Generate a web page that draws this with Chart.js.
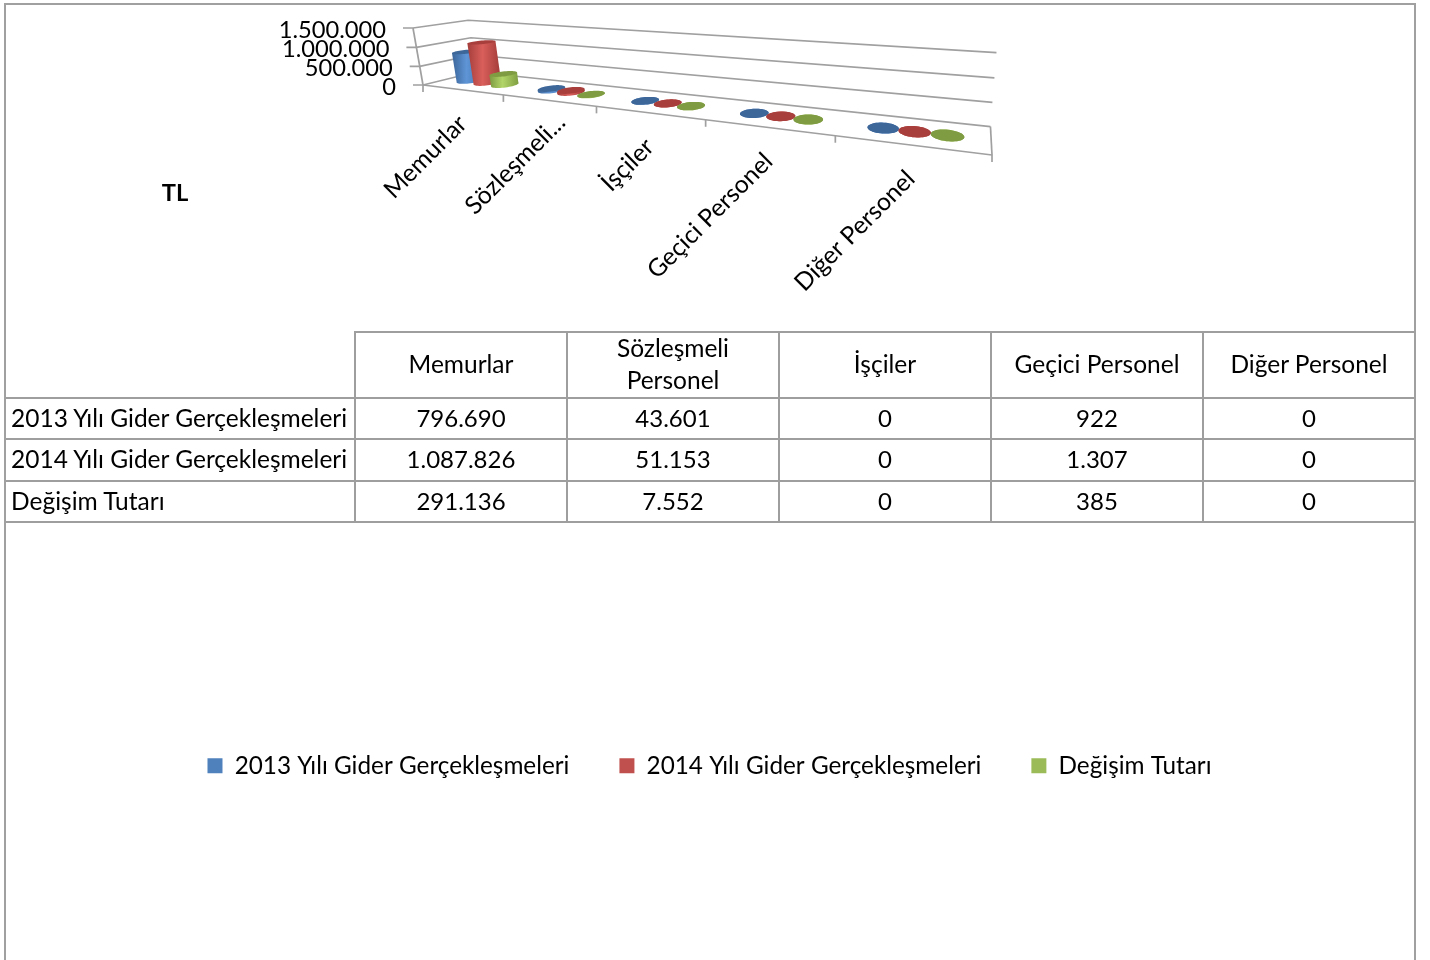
<!DOCTYPE html>
<html lang="tr">
<head>
<meta charset="utf-8">
<title>Personel Giderleri</title>
<script src="https://cdn.jsdelivr.net/npm/chart.js@4"></script>
<style>
html,body{margin:0;padding:0;background:#fff;overflow:hidden;width:1430px;height:960px}
canvas{position:absolute;left:0;top:0}
#frame{position:absolute;left:4px;top:3px;width:1408px;height:1000px;border:2px solid #a0a0a0;box-sizing:content-box;pointer-events:none}
#tbl{position:absolute;left:4px;top:331px;border-collapse:collapse;table-layout:fixed;width:1410px;font:24.5px Lato,sans-serif;color:#000}
#tbl td,#tbl th{border:2px solid #9e9e9e;padding:0;text-align:center;font-weight:400;line-height:32px;font-size:24px}
#tbl th{font-size:24.5px;white-space:nowrap}
#tbl th.blank{border-left:none;border-top:none}
#tbl td.name{text-align:left;padding-left:5px;white-space:nowrap;font-size:24.5px}
#tbl div{position:relative;top:-1px}
</style>
</head>
<body>
<canvas id="c" width="1430" height="960"></canvas>
<table id="tbl"></table>
<div id="frame"></div>
<script>
const axisLabels = ['Memurlar','Sözleşmeli...','İşçiler','Geçici Personel','Diğer Personel'];
const tableHeads = ['Memurlar','Sözleşmeli<br>Personel','İşçiler','Geçici Personel','Diğer Personel'];
const seriesNames = ['2013 Yılı Gider Gerçekleşmeleri','2014 Yılı Gider Gerçekleşmeleri','Değişim Tutarı'];
const values2013 = [796690,43601,0,922,0];
const values2014 = [1087826,51153,0,1307,0];
const valuesDiff = [291136,7552,0,385,0];
const axisTitle = 'TL';
const legendColors = ['#4f81bd','#c0504d','#9bbb59'];
const FONT = 'Lato';
const FS = 23.7, FS_CAT = 24.6, FS_LEG = 24.3;

const dots = n => String(n).replace(/\B(?=(\d{3})+$)/g,'.');

// table
(function(){
  const t = document.getElementById('tbl');
  const cell = (tag,txt,cls) => '<'+tag+(cls?' class="'+cls+'"':'')+'><div>'+txt+'</div></'+tag+'>';
  let h = '<colgroup><col style="width:350px">'+tableHeads.map(()=>'<col style="width:212px">').join('')+'</colgroup>';
  h += '<tr style="height:66px"><th class="blank"></th>'+tableHeads.map(x=>cell('th',x)).join('')+'</tr>';
  const rows=[values2013,values2014,valuesDiff], hs=[41,42,41];
  rows.forEach((r,i)=>{ h+='<tr style="height:'+hs[i]+'px">'+cell('td',seriesNames[i],'name')+r.map(v=>cell('td',dots(v))).join('')+'</tr>'; });
  t.innerHTML=h;
})();

// perspective camera: the scales' unit box -> screen
const O=[423,85],U=[992,155],V=[413,28],W=[476,72];
const wU=.658,wV=.975,wW=1.105;
function project(u,v,w){
  const hx=O[0]+u*(wU*U[0]-O[0])+v*(wV*V[0]-O[0])+w*(wW*W[0]-O[0]);
  const hy=O[1]+u*(wU*U[1]-O[1])+v*(wV*V[1]-O[1])+w*(wW*W[1]-O[1]);
  const hz=1+u*(wU-1)+v*(wV-1)+w*(wW-1);
  return [hx/hz,hy/hz];
}
const BAR_W=.48, BAR_RW=.21;
const bodyShades=[['#3a6599','#5f95d6','#3f70ab'],['#a53e3b','#d95f5b','#a03a37'],['#7c9a41','#b2d568','#7f9e42']];
const topShades=['#3d6699','#a83f3c','#7f9c42'];

const persp = {
  id:'persp',
  beforeDatasetsDraw(chart){
    const ctx=chart.ctx, xs=chart.scales.x, ys=chart.scales.y;
    const U_=px=>(px-xs.left)/xs.width, V_=py=>(ys.bottom-py)/ys.height;
    const line=(a,b)=>{ctx.beginPath();ctx.moveTo(a[0],a[1]);ctx.lineTo(b[0],b[1]);ctx.stroke();};
    ctx.save();
    ctx.strokeStyle='#a0a0a0';ctx.lineWidth=1.7;
    // value gridlines on left and back walls, ticks
    ys.ticks.forEach(t=>{
      const v=V_(ys.getPixelForValue(t.value));
      const a=project(0,v,0),b=project(0,v,1),c=project(1,v,1);
      ctx.beginPath();ctx.moveTo(a[0]-10,a[1]);ctx.lineTo(a[0],a[1]);ctx.lineTo(b[0],b[1]);ctx.lineTo(c[0],c[1]);ctx.stroke();
    });
    line(project(0,0,0),project(0,1,0));
    // floor
    line(project(0,0,0),project(1,0,0));
    line(project(1,0,0),project(1,0,1));
    const n=chart.data.labels.length;
    for(let i=0;i<=n;i++){
      const p=project(U_(xs.getPixelForValue(i-.5)),0,0);
      line(p,[p[0],p[1]+7]);
    }
    // value labels
    ctx.fillStyle='#000';ctx.font=FS+'px '+FONT;ctx.textAlign='right';ctx.textBaseline='middle';
    ys.ticks.forEach(t=>{
      const p=project(0,V_(ys.getPixelForValue(t.value)),0);
      ctx.fillText(t.label,p[0]-27,p[1]+2);
    });
    // category labels
    ctx.font=FS_CAT+'px '+FONT;
    xs.ticks.forEach((t,i)=>{
      const p=project(U_(xs.getPixelForTick(i)),0,0);
      ctx.save();ctx.translate(p[0]+1,p[1]+30);ctx.rotate(-Math.PI/4);
      ctx.textAlign='right';ctx.textBaseline='middle';
      ctx.fillText(t.label,t.label.endsWith('...')?17:0,0);ctx.restore();
    });
    // axis title
    ctx.font='bold '+FS+'px '+FONT;ctx.textAlign='center';
    ctx.fillText(axisTitle,175,193);
    // cylinders
    chart.data.datasets.forEach((ds,si)=>{
      chart.getDatasetMeta(si).data.forEach(el=>{
        const cu=U_(el.x), ru=el.width/2/xs.width, vT=V_(el.y);
        const ring=v=>{const r=[];for(let k=0;k<48;k++){const a=k/48*2*Math.PI;r.push(project(cu+ru*Math.cos(a),v,BAR_W+BAR_RW*Math.sin(a)));}return r;};
        const bot=ring(0), top=ring(vT);
        const ext=r=>{let a=r[0],b=r[0];r.forEach(p=>{if(p[0]<a[0])a=p;if(p[0]>b[0])b=p;});return [a,b];};
        const fillRing=r=>{ctx.beginPath();r.forEach((p,i)=>i?ctx.lineTo(p[0],p[1]):ctx.moveTo(p[0],p[1]));ctx.closePath();ctx.fill();};
        const [bl,br]=ext(bot),[tl,tr]=ext(top);
        const g=ctx.createLinearGradient(Math.min(bl[0],tl[0]),0,Math.max(br[0],tr[0]),0);
        const s=bodyShades[si];
        g.addColorStop(0,s[0]);g.addColorStop(.45,s[1]);g.addColorStop(1,s[2]);
        ctx.fillStyle=g;
        fillRing(bot);
        ctx.beginPath();ctx.moveTo(bl[0],bl[1]);ctx.lineTo(tl[0],tl[1]);ctx.lineTo(tr[0],tr[1]);ctx.lineTo(br[0],br[1]);ctx.closePath();ctx.fill();
        ctx.fillStyle=topShades[si];
        fillRing(top);
      });
    });
    ctx.restore();
    return false;
  }
};

new Chart(document.getElementById('c'),{
  type:'bar',
  data:{
    labels:axisLabels,
    datasets:[
      {label:seriesNames[0],data:values2013,backgroundColor:legendColors[0]},
      {label:seriesNames[1],data:values2014,backgroundColor:legendColors[1]},
      {label:seriesNames[2],data:valuesDiff,backgroundColor:legendColors[2]}
    ]
  },
  options:{
    responsive:false,animation:false,
    layout:{padding:{bottom:172,right:11}},
    datasets:{bar:{categoryPercentage:.66,barPercentage:1}},
    scales:{
      x:{display:false,ticks:{autoSkip:false}},
      y:{display:false,min:0,max:1500000,ticks:{stepSize:500000,callback:v=>dots(v)}}
    },
    plugins:{
      tooltip:{enabled:false},
      legend:{display:true,position:'bottom',labels:{boxWidth:15,boxHeight:15,padding:50,color:'#000',font:{family:FONT,size:FS_LEG}}}
    }
  },
  plugins:[persp]
});
</script>
</body>
</html>
